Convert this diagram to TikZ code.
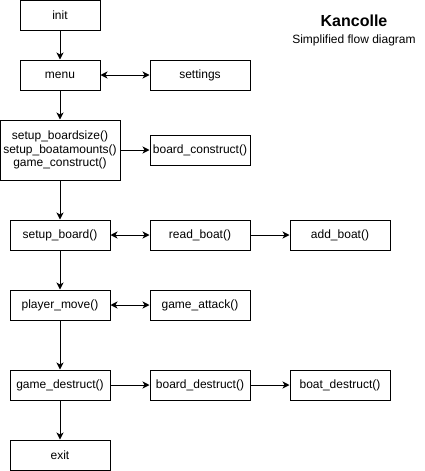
\documentclass[tikz,border=0pt]{standalone}
\usepackage{fontspec}
\setmainfont{Liberation Sans}
\usetikzlibrary{arrows.meta}
\begin{document}
\begin{tikzpicture}[x=1pt,y=-1pt,
  box/.style={draw=black,line width=1pt,rectangle,inner sep=0pt,align=center,
    font=\fontsize{12}{13.5}\selectfont},
  conn/.style={line width=1pt,-{Stealth[length=7pt,width=7pt,inset=2pt]}},
  biconn/.style={line width=1pt,{Stealth[length=7pt,width=7pt,inset=2pt]}-{Stealth[length=7pt,width=7pt,inset=2pt]}}]
\useasboundingbox (0,0) rectangle (425,471);
\node[box,minimum width=80pt,minimum height=30pt] (init) at (60,15) {init};
\node[box,minimum width=80pt,minimum height=30pt] (menu) at (60,75) {menu};
\node[box,minimum width=100pt,minimum height=30pt] (settings) at (200,75) {settings};
\node[box,minimum width=120pt,minimum height=60pt] (setup) at (60,150) {setup\_boardsize()\\setup\_boatamounts()\\game\_construct()};
\node[box,minimum width=100pt,minimum height=30pt] (bconst) at (200,150) {board\_construct()};
\node[box,minimum width=100pt,minimum height=30pt] (sboard) at (60,235) {setup\_board()};
\node[box,minimum width=100pt,minimum height=30pt] (rboat) at (200,235) {read\_boat()};
\node[box,minimum width=100pt,minimum height=30pt] (aboat) at (340,235) {add\_boat()};
\node[box,minimum width=100pt,minimum height=30pt] (pmove) at (60,305) {player\_move()};
\node[box,minimum width=100pt,minimum height=30pt] (gattack) at (200,305) {game\_attack()};
\node[box,minimum width=100pt,minimum height=30pt] (gdes) at (60,385) {game\_destruct()};
\node[box,minimum width=100pt,minimum height=30pt] (bdes) at (200,385) {board\_destruct()};
\node[box,minimum width=100pt,minimum height=30pt] (btdes) at (340,385) {boat\_destruct()};
\node[box,minimum width=100pt,minimum height=30pt] (exit) at (60,455) {exit};
\node[font=\fontsize{16}{18}\bfseries\selectfont,inner sep=0pt] (title) at (354,21) {Kancolle};
\node[font=\fontsize{12}{14}\selectfont,inner sep=0pt] (subtitle) at (354,40) {Simplified flow diagram};
\draw[conn] (init) -- (menu);
\draw[conn] (menu) -- (setup);
\draw[conn] (setup) -- (sboard);
\draw[conn] (sboard) -- (pmove);
\draw[conn] (pmove) -- (gdes);
\draw[conn] (gdes) -- (exit);
\draw[biconn] (menu) -- (settings);
\draw[conn] (setup) -- (bconst);
\draw[biconn] (sboard) -- (rboat);
\draw[conn] (rboat) -- (aboat);
\draw[biconn] (pmove) -- (gattack);
\draw[conn] (gdes) -- (bdes);
\draw[conn] (bdes) -- (btdes);
\end{tikzpicture}
\end{document}
